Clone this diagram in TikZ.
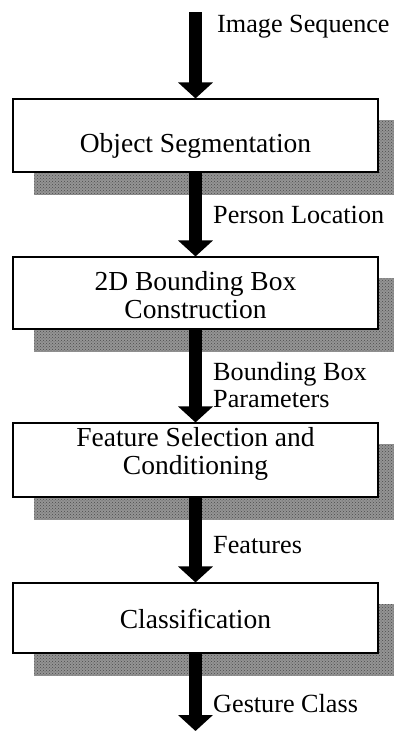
\documentclass[tikz,border=0pt]{standalone}
\usepackage{fontspec}
\setmainfont{Liberation Serif}
\usetikzlibrary{arrows.meta,patterns,backgrounds}
\begin{document}
\begin{tikzpicture}[x=1pt,y=-1pt,
  box/.style={draw=black,fill=white,line width=1.1pt,minimum width=365pt,inner sep=0pt},
  boxshade/.style={preaction={fill=black!42},pattern=crosshatch dots,pattern color=black!70},
  flow/.style={line width=13.5pt,-{Triangle[width=34pt,length=16pt]}},
  lbl/.style={anchor=base west,inner sep=0pt,font=\fontsize{26.2}{26.2}\selectfont},
  txt/.style={anchor=base,inner sep=0pt,font=\fontsize{27.5}{27.5}\selectfont}]
\useasboundingbox (0,0) rectangle (394,732);
\clip (0,0) rectangle (394,732);

% process boxes
\node[box,minimum height=73pt] (b1) at (195.5,135.5) {};
\node[box,minimum height=72pt] (b2) at (195.5,293) {};
\node[box,minimum height=74pt] (b3) at (195.5,460) {};
\node[box,minimum height=70pt] (b4) at (195.5,618) {};

% drop shadows behind the boxes
\begin{scope}[on background layer]
\foreach \b in {b1,b2,b3,b4}{
  \fill[boxshade] ([shift={(22,22)}]\b.south west) rectangle ([shift={(22,22)}]\b.north east);
}
\end{scope}

% box captions
\node[txt] (t1) at (195.5,152) {Object Segmentation};
\node[txt] (t2a) at (195.5,290) {2D Bounding Box};
\node[txt] (t2b) at (195.5,318) {Construction};
\node[txt] (t3a) at (195.5,446) {Feature Selection and};
\node[txt] (t3b) at (195.5,474) {Conditioning};
\node[txt] (t4) at (195.5,628) {Classification};

% flow arrows
\coordinate (in) at (195.5,12);
\coordinate (out) at (195.5,731);
\draw[flow] (in) -- (b1.north);
\draw[flow] (b1.south) -- (b2.north);
\draw[flow] (b2.south) -- (b3.north);
\draw[flow] (b3.south) -- (b4.north);
\draw[flow] (b4.south) -- (out);

% data labels
\node[lbl] (l0) at (217,32) {Image Sequence};
\node[lbl] (l1) at (213,223) {Person Location};
\node[lbl] (l2a) at (213,380) {Bounding Box};
\node[lbl] (l2b) at (213,407) {Parameters};
\node[lbl] (l3) at (213,553) {Features};
\node[lbl] (l4) at (213,712) {Gesture Class};
\end{tikzpicture}
\end{document}
